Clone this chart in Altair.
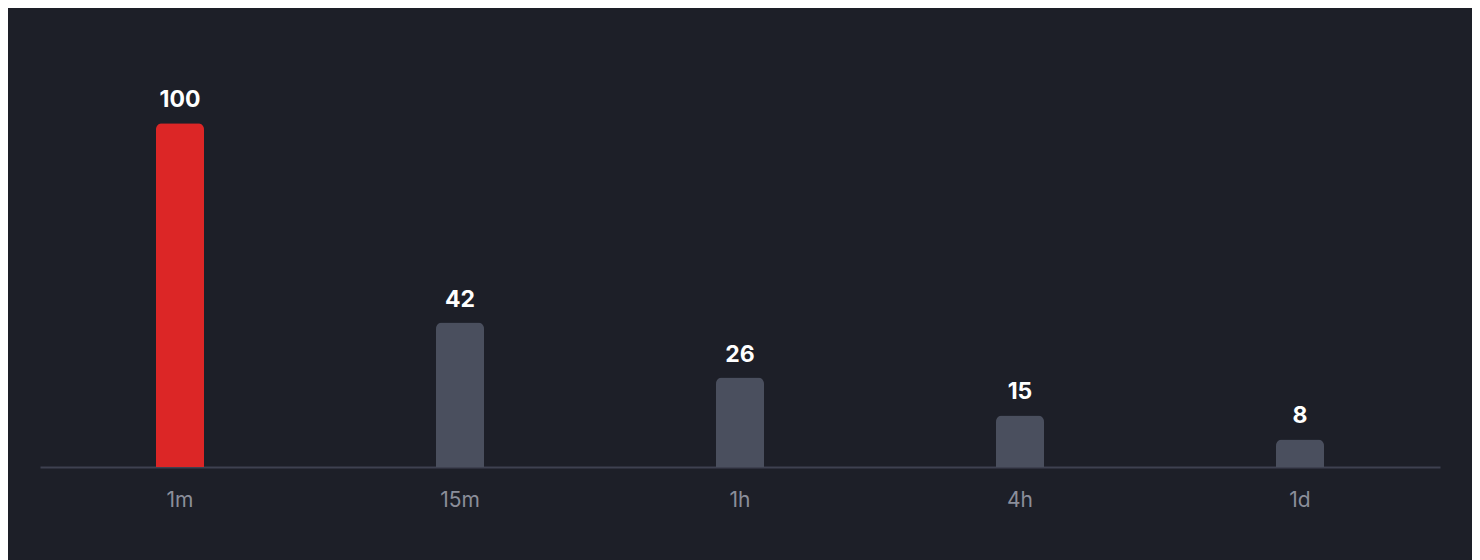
import altair as alt
import pandas as pd

categories = ["1m", "15m", "1h", "4h", "1d"]
values = [100, 42, 26, 15, 8]
highlight = [True, False, False, False, False]

df = pd.DataFrame({"cat": categories, "val": values, "hl": highlight})

x = alt.X("cat:N", sort=categories, title=None,
          scale=alt.Scale(paddingInner=0.0, paddingOuter=0.0),
          axis=alt.Axis(labelAngle=0, ticks=False, domain=True, domainColor="#3e4150",
                        domainWidth=2, labelColor="#8b8e9a", labelFontSize=21,
                        labelFont="Inter", labelPadding=22, grid=False))
y = alt.Y("val:Q", title=None, scale=alt.Scale(domain=[0, 130], nice=False),
          axis=None)

bars = alt.Chart(df).mark_bar(size=48, cornerRadiusTopLeft=6, cornerRadiusTopRight=6).encode(
    x=x, y=y,
    color=alt.Color("hl:N", scale=alt.Scale(domain=[True, False], range=["#dc2626", "#4a4f5e"]), legend=None),
)

labels = alt.Chart(df).mark_text(baseline="bottom", dy=-11, fontSize=23, fontWeight="bold",
                                 font="Inter", color="#ffffff").encode(
    x=alt.X("cat:N", sort=categories), y=y, text="val:Q")

chart = (bars + labels).properties(
    width=1400, height=447,
    padding={"left": 32, "top": 12, "right": 32, "bottom": 50},
    background="#1d1f28",
).configure_view(stroke=None)

chart.save("out.html", embed_options={"renderer": "svg", "actions": False})
